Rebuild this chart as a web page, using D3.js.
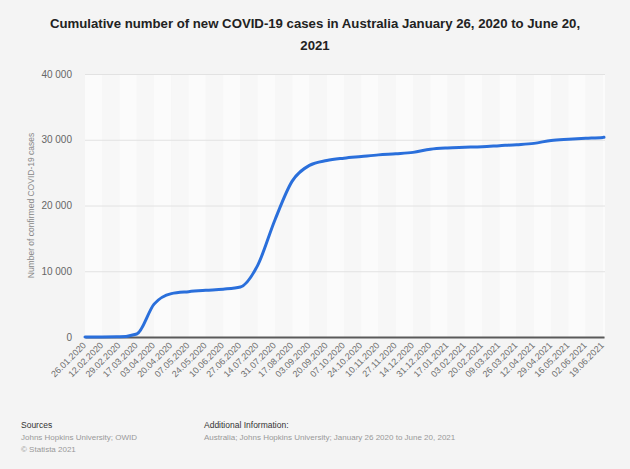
<!DOCTYPE html>
<html>
<head>
<meta charset="utf-8">
<script src="https://cdn.jsdelivr.net/npm/d3@7"></script>
<style>
  html, body { margin: 0; padding: 0; background: #f4f4f4; }
  svg { display: block; font-family: "Liberation Sans", Arial, sans-serif; }
</style>
</head>
<body>
<svg id="chart" width="630" height="469"></svg>
<script>
// ---- data ----
const titleLines = ["Cumulative number of new COVID-19 cases in Australia January 26, 2020 to June 20,", "2021"];
const yAxisTitle = "Number of confirmed COVID-19 cases";
const dates = ["26.01.2020","12.02.2020","29.02.2020","17.03.2020","03.04.2020","20.04.2020","07.05.2020","24.05.2020","10.06.2020","27.06.2020","14.07.2020","31.07.2020","17.08.2020","03.09.2020","20.09.2020","07.10.2020","24.10.2020","10.11.2020","27.11.2020","14.12.2020","31.12.2020","17.01.2021","03.02.2021","20.02.2021","09.03.2021","26.03.2021","12.04.2021","29.04.2021","16.05.2021","02.06.2021","19.06.2021","20.06.2021"];
const cases = [4,15,25,450,5000,6600,6900,7100,7270,7600,10900,17800,23700,26100,26850,27200,27450,27700,27870,28080,28550,28750,28850,28950,29100,29250,29450,29900,30080,30220,30360,30370];
const tickDates = dates.slice(0, 31);
const yTicks = [0, 10000, 20000, 30000, 40000];
const sourcesLines = ["Johns Hopkins University; OWID", "© Statista 2021"];
const additionalInfo = "Australia; Johns Hopkins University; January 26 2020 to June 20, 2021";

// ---- setup ----
const parse = d3.timeParse("%d.%m.%Y");
const fmt = d3.timeFormat("%d.%m.%Y");
const data = dates.map((d, i) => ({ date: parse(d), value: cases[i] }));

const svg = d3.select("#chart");
const pLeft = 85, pRight = 604, pTop = 74, pBottom = 337;

const x = d3.scaleTime()
  .domain([parse(dates[0]), parse(dates[dates.length - 1])])
  .range([pLeft, pRight]);
const y = d3.scaleLinear().domain([0, 40000]).range([pBottom, pTop]);

// background bands
const tickPos = tickDates.map(d => x(parse(d)));
const bandEdges = tickPos.concat([pRight + 1]);
svg.append("g").selectAll("rect")
  .data(d3.range(bandEdges.length - 1))
  .join("rect")
  .attr("x", i => bandEdges[i])
  .attr("y", pTop)
  .attr("width", i => bandEdges[i + 1] - bandEdges[i])
  .attr("height", pBottom - pTop)
  .attr("fill", i => i % 2 === 0 ? "#fbfbfb" : "#f7f7f7");

// title
svg.append("g").selectAll("text")
  .data(titleLines)
  .join("text")
  .attr("x", 315)
  .attr("y", (d, i) => 28 + i * 22)
  .attr("text-anchor", "middle")
  .attr("font-size", 13.2)
  .attr("font-weight", "bold")
  .attr("fill", "#222")
  .text(d => d);

// y grid + labels
const yAxis = d3.axisLeft(y).tickValues(yTicks)
  .tickSize(-(pRight - pLeft + 1))
  .tickFormat(d => d3.format(",")(d).replace(/,/g, " "));
const gy = svg.append("g").attr("transform", `translate(${pLeft},0)`).call(yAxis);
gy.select(".domain").remove();
gy.selectAll(".tick line").attr("stroke", "#e2e2e2").attr("stroke-width", 1);
gy.selectAll(".tick text").attr("x", -13).attr("fill", "#666").attr("font-size", 10)
  .attr("font-family", "Liberation Sans, Arial, sans-serif");

// y axis title
svg.append("text")
  .attr("transform", `translate(34,${(pTop + pBottom) / 2}) rotate(-90)`)
  .attr("text-anchor", "middle")
  .attr("font-size", 8.5)
  .attr("fill", "#888")
  .text(yAxisTitle);

// x axis
const xAxis = d3.axisBottom(x)
  .tickValues(tickDates.map(parse))
  .tickSize(0)
  .tickFormat(fmt);
const gx = svg.append("g").attr("transform", `translate(0,${pBottom})`).call(xAxis);
gx.select(".domain").attr("stroke", "#5a5a5a").attr("stroke-width", 2);
gx.selectAll(".tick text")
  .attr("fill", "#6e6e6e")
  .attr("font-size", 9)
  .attr("font-family", "Liberation Sans, Arial, sans-serif")
  .attr("text-anchor", "end")
  .attr("dy", null)
  .attr("transform", "translate(1,9) rotate(-45)")
  .attr("y", 0).attr("x", 0);

// line
const line = d3.line().x(d => x(d.date)).y(d => y(d.value)).curve(d3.curveMonotoneX);
svg.append("path")
  .datum(data)
  .attr("fill", "none")
  .attr("stroke", "#2a6fdb")
  .attr("stroke-width", 3)
  .attr("stroke-linejoin", "round")
  .attr("stroke-linecap", "round")
  .attr("d", line);

// footer
const foot = svg.append("g").attr("font-size", 8);
foot.append("text").attr("x", 21).attr("y", 428).attr("fill", "#333").attr("font-size", 8.5).text("Sources");
foot.selectAll(".src").data(sourcesLines).join("text")
  .attr("x", 21).attr("y", (d, i) => 440 + i * 12).attr("fill", "#999").text(d => d);
foot.append("text").attr("x", 204).attr("y", 428).attr("fill", "#333").attr("font-size", 8.5).text("Additional Information:");
foot.append("text").attr("x", 204).attr("y", 440).attr("fill", "#999").text(additionalInfo);
</script>
</body>
</html>
